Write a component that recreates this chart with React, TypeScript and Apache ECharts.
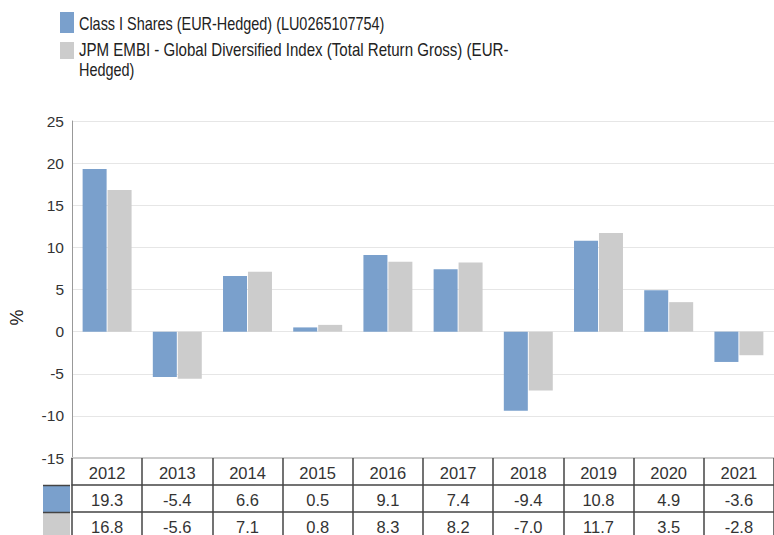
import React, { useEffect, useRef } from "react";
import * as echarts from "echarts";

const years = ["2012", "2013", "2014", "2015", "2016", "2017", "2018", "2019", "2020", "2021"];
const fundName = "Class I Shares (EUR-Hedged) (LU0265107754)";
const indexName = "JPM EMBI - Global Diversified Index (Total Return Gross) (EUR-Hedged)";
const indexLegendLines = ["JPM EMBI - Global Diversified Index (Total Return Gross) (EUR-", "Hedged)"];
const fundValues = [19.3, -5.4, 6.6, 0.5, 9.1, 7.4, -9.4, 10.8, 4.9, -3.6];
const indexValues = [16.8, -5.6, 7.1, 0.8, 8.3, 8.2, -7.0, 11.7, 3.5, -2.8];
const yMin = -15;
const yMax = 25;
const yInterval = 5;

const BLUE = "#7aa0cc";
const GRAY = "#cccccc";
const FONT = "'Liberation Sans', Arial, sans-serif";

function tableAxis(offset: number, labels: string[], lineColor: string, lineWidth: number) {
  return {
    type: "category",
    data: years,
    gridIndex: 0,
    position: "bottom",
    offset,
    axisLine: { show: true, onZero: false, lineStyle: { color: lineColor, width: lineWidth } },
    axisTick: { show: true, length: 27, lineStyle: { color: "#444", width: 1.5 } },
    axisLabel: {
      formatter: (_v: string, i: number) => labels[i],
      margin: 6,
      fontSize: 16.5,
      color: "#333",
      fontFamily: FONT,
    },
    splitLine: { show: false },
  };
}

function legendText(text: string, y: number, scaleX: number) {
  return {
    type: "text",
    x: 79,
    y,
    scaleX,
    style: {
      text,
      fill: "#222",
      fontFamily: FONT,
      fontSize: 18.5,
      verticalAlign: "middle",
      align: "left",
    },
  };
}

export default function App() {
  const ref = useRef<HTMLDivElement>(null);
  useEffect(() => {
    if (!ref.current) return;
    const chart = echarts.init(ref.current, null, { renderer: "svg" });
    chart.setOption({
      animation: false,
      backgroundColor: "#fff",
      grid: { left: 70, right: -3, top: 121, bottom: 77, containLabel: false },
      xAxis: [
        tableAxis(0, years, "#cccccc", 2),
        tableAxis(27, fundValues.map((v) => v.toFixed(1)), "#444", 1.5),
        tableAxis(54, indexValues.map((v) => v.toFixed(1)), "#444", 1.5),
      ],
      yAxis: {
        type: "value",
        min: yMin,
        max: yMax,
        interval: yInterval,
        name: "%",
        nameLocation: "middle",
        nameRotate: 90,
        nameGap: 46,
        nameTextStyle: { fontFamily: FONT, fontSize: 18, color: "#222", padding: [0, 56, 0, 0] },
        axisLine: { show: true, lineStyle: { color: "#999", width: 1 } },
        axisTick: { show: false },
        axisLabel: { margin: 8, fontSize: 15.5, color: "#333", fontFamily: FONT },
        splitLine: { show: true, lineStyle: { color: "#e6e6e6", width: 1 } },
      },
      series: [
        {
          name: fundName,
          type: "bar",
          data: fundValues,
          barWidth: 24,
          barGap: "4%",
          itemStyle: { color: BLUE },
        },
        {
          name: indexName,
          type: "bar",
          data: indexValues,
          barWidth: 24,
          itemStyle: { color: GRAY },
        },
      ],
      graphic: [
        { type: "rect", shape: { x: 60, y: 12, width: 14, height: 21 }, style: { fill: BLUE } },
        legendText(fundName, 23.5, 0.78),
        { type: "rect", shape: { x: 60, y: 42, width: 14, height: 17 }, style: { fill: GRAY } },
        legendText(indexLegendLines[0], 50, 0.815),
        legendText(indexLegendLines[1], 69.5, 0.78),
        { type: "rect", shape: { x: 43, y: 486, width: 27, height: 26 }, style: { fill: BLUE } },
        { type: "rect", shape: { x: 43, y: 513, width: 27, height: 27 }, style: { fill: GRAY } },
        { type: "line", shape: { x1: 43, y1: 485.5, x2: 70, y2: 485.5 }, style: { stroke: "#444", lineWidth: 1.5 } },
        { type: "line", shape: { x1: 43, y1: 512.5, x2: 70, y2: 512.5 }, style: { stroke: "#444", lineWidth: 1.5 } },
      ],
    });
    return () => chart.dispose();
  }, []);
  return (
    <div
      ref={ref}
      style={{ position: "fixed", left: 0, top: 0, width: 774, height: 535, background: "#fff" }}
    />
  );
}
